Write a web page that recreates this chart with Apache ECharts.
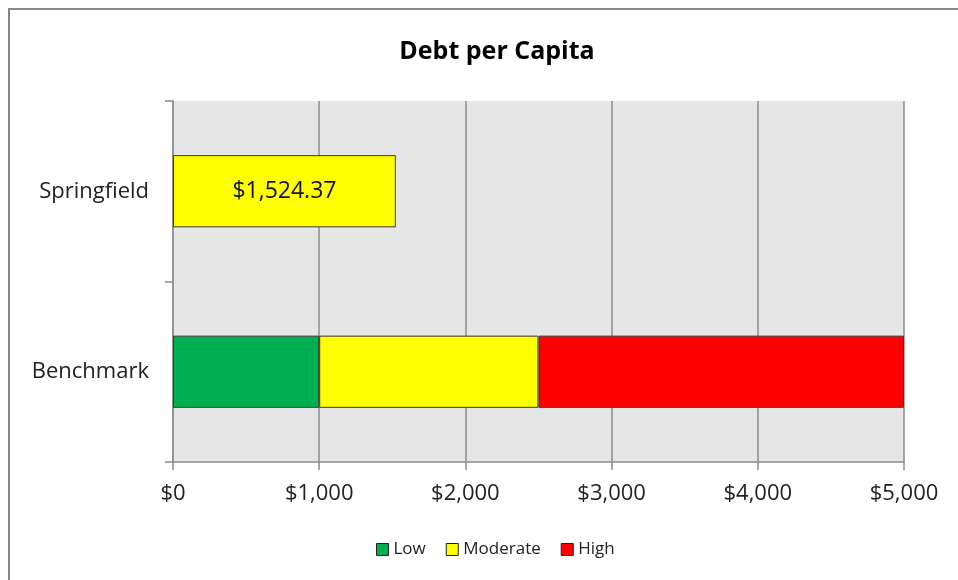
<!DOCTYPE html>
<html><head><meta charset="utf-8">
<script src="https://cdn.jsdelivr.net/npm/echarts@6/dist/echarts.min.js"></script>
<style>html,body{margin:0;padding:0;background:#fff}#c{width:958px;height:580px}</style>
</head><body><div id="c"></div>
<script>
var categories = ['Benchmark', 'Springfield'];
var lowValues = [1000, null];
var moderateValues = [1500, null];
var highValues = [2500, null];
var springfieldValues = [null, 1524.37];
var xTicks = [0, 1000, 2000, 3000, 4000, 5000];

var FONT = '"Open Sans", "Noto Sans", sans-serif';
function money(v){ return '$' + Number(v).toLocaleString('en-US'); }
var barBorder = {borderColor:'#3a3a3a', borderWidth:1};

var chart = echarts.init(document.getElementById('c'), null, {renderer:'canvas'});
chart.setOption({
  animation:false,
  backgroundColor:'#fff',
  title:{text:'Debt per Capita', left:492, textAlign:'center', top:34,
    textStyle:{fontFamily:FONT, fontSize:25, fontWeight:'bold', color:'#000'}},
  graphic:[{type:'rect', shape:{x:9, y:9, width:1000, height:1000},
    style:{fill:'none', stroke:'#868686', lineWidth:2}, silent:true}],
  legend:{data:['Low','Moderate','High'], bottom:17, left:371, itemWidth:12, itemHeight:12, itemGap:20,
    icon:'rect', textStyle:{fontFamily:FONT, fontSize:17, color:'#222'},
    itemStyle:{borderColor:'#222', borderWidth:1}},
  grid:{left:173, right:54, top:101, bottom:118, show:true, backgroundColor:'#e6e6e6', borderWidth:0},
  xAxis:{type:'value', min:0, max:5000, interval:1000,
    axisLine:{show:true, lineStyle:{color:'#8c8c8c', width:1.5}},
    axisTick:{show:true, length:8, lineStyle:{color:'#8c8c8c', width:1.5}},
    splitLine:{show:true, lineStyle:{color:'#8c8c8c', width:1.5}},
    axisLabel:{formatter:function(v){return money(v);}, fontFamily:FONT, fontSize:22, color:'#222', margin:21,
      customValues: xTicks}},
  yAxis:{type:'category', data:categories,
    axisLine:{show:true, lineStyle:{color:'#8c8c8c', width:1.5}},
    axisTick:{show:true, length:8, lineStyle:{color:'#8c8c8c', width:1.5}},
    axisLabel:{fontFamily:FONT, fontSize:22, color:'#222', margin:24}},
  series:[
    {name:'Low', type:'bar', stack:'s', data:lowValues, barWidth:'40%', itemStyle:Object.assign({color:'#00B050'}, barBorder)},
    {name:'Moderate', type:'bar', stack:'s', data:moderateValues, itemStyle:Object.assign({color:'#FFFF00'}, barBorder)},
    {name:'High', type:'bar', stack:'s', data:highValues, itemStyle:Object.assign({color:'#FF0000'}, barBorder)},
    {name:'Springfield', type:'bar', stack:'s', data:springfieldValues, itemStyle:Object.assign({color:'#FFFF00'}, barBorder),
      label:{show:true, position:'inside', fontFamily:FONT, fontSize:23, color:'#111',
        formatter:function(p){return '$' + p.value.toLocaleString('en-US',{minimumFractionDigits:2, maximumFractionDigits:2});}}}
  ]
});
</script></body></html>
